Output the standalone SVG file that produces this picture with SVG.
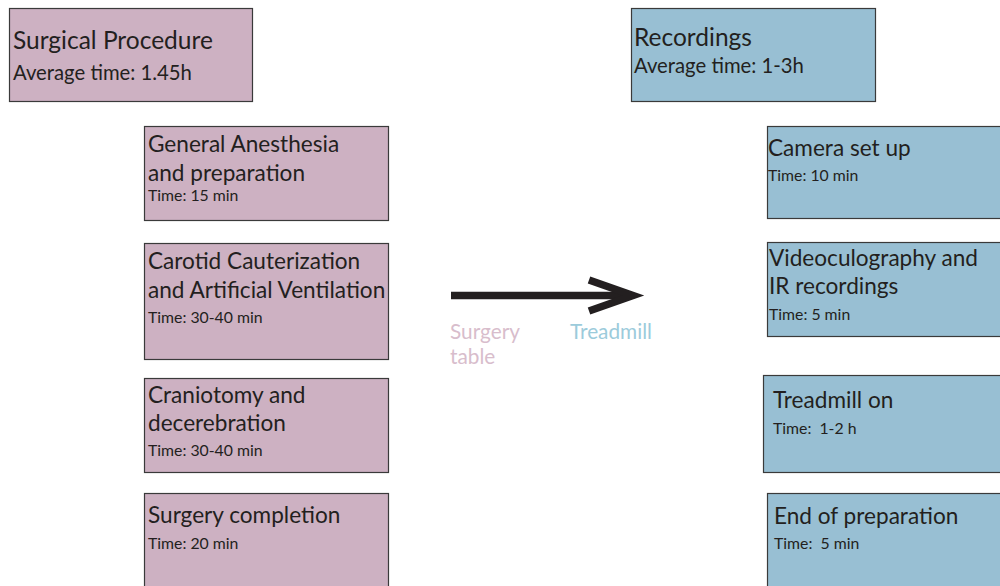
<svg xmlns="http://www.w3.org/2000/svg" width="1000" height="586" viewBox="0 0 1000 586">
<style>
.p{fill:#cdb1c2;stroke:#3a3a3a;stroke-width:1.2}
.b{fill:#98bfd3;stroke:#3a3a3a;stroke-width:1.2}
text{font-family:"Lato","Open Sans",sans-serif;fill:#231f20;white-space:pre}
.h{font-size:24.5px}
.s{font-size:20.3px}
.m{font-size:22.6px}
.t{font-size:15.8px}
.l{font-size:20.8px}
</style>
<rect width="1000" height="586" fill="#fff"/>
<g id="surgical"><rect class="p" x="9.5" y="8.5" width="243" height="93"/><text class="h" x="13" y="49">Surgical Procedure</text><text class="s" x="13" y="80">Average time: 1.45h</text></g>
<g id="anesthesia"><rect class="p" x="144.5" y="126.5" width="244" height="94"/><text class="m" x="148" y="152">General Anesthesia</text><text class="m" x="148" y="181">and preparation</text><text class="t" x="148" y="201">Time: 15 min</text></g>
<g id="carotid"><rect class="p" x="144.5" y="243.5" width="244" height="116"/><text class="m" x="148" y="269">Carotid Cauterization</text><text class="m" x="148" y="298">and Artificial Ventilation</text><text class="t" x="148" y="323">Time: 30-40 min</text></g>
<g id="craniotomy"><rect class="p" x="144.5" y="378.5" width="244" height="94"/><text class="m" x="148" y="403">Craniotomy and</text><text class="m" x="148" y="431">decerebration</text><text class="t" x="148" y="456">Time: 30-40 min</text></g>
<g id="completion"><rect class="p" x="144.5" y="493.5" width="244" height="100"/><text class="m" x="148" y="523">Surgery completion</text><text class="t" x="148" y="549">Time: 20 min</text></g>
<g id="recordings"><rect class="b" x="631.5" y="8.5" width="244" height="93"/><text class="h" x="634" y="46">Recordings</text><text class="s" x="634" y="73">Average time: 1-3h</text></g>
<g id="camera"><rect class="b" x="767.5" y="126.5" width="240" height="92"/><text class="m" x="768" y="156">Camera set up</text><text class="t" x="768" y="181">Time: 10 min</text></g>
<g id="video"><rect class="b" x="767.5" y="242.5" width="240" height="94"/><text class="m" x="769" y="266">Videoculography and</text><text class="m" x="769" y="294">IR recordings</text><text class="t" x="769" y="320">Time: 5 min</text></g>
<g id="treadmill"><rect class="b" x="763.5" y="375.5" width="244" height="97"/><text class="m" x="773" y="408">Treadmill on</text><text class="t" x="773" y="434">Time:  1-2 h</text></g>
<g id="end"><rect class="b" x="767.5" y="493.5" width="240" height="100"/><text class="m" x="774" y="524">End of preparation</text><text class="t" x="774" y="549">Time:  5 min</text></g>
<g id="connectors"><line x1="451" y1="295.5" x2="632" y2="295.5" stroke="#231f20" stroke-width="7.5"/><polyline points="589,280 633,295.5 589,311" fill="none" stroke="#231f20" stroke-width="7.5" stroke-linejoin="miter"/></g>
<text class="l" x="450" y="339" style="fill:#d8bdcc">Surgery</text>
<text class="l" x="450" y="364" style="fill:#d8bdcc">table</text>
<text class="l" x="570" y="339" style="fill:#9ccbdb">Treadmill</text>
</svg>
